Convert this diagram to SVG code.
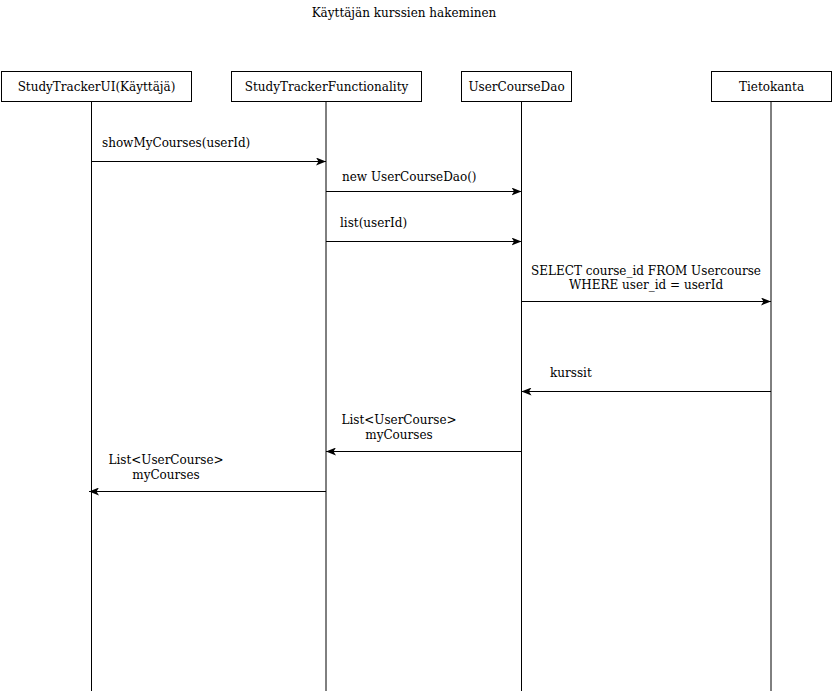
<svg xmlns="http://www.w3.org/2000/svg" width="833" height="694" viewBox="0 0 833 694">
  <style>
    text { font-family: "DejaVu Serif", "Liberation Serif", serif; font-size: 12px; fill: #000; }
    .mid { text-anchor: middle; }
    .box { fill: #fff; stroke: #000; stroke-width: 1; }
    .life { stroke: #000; stroke-width: 1; }
    .life-g { stroke: #000; stroke-width: 1; }
    .msg { stroke: #000; stroke-width: 1; fill: none; marker-end: url(#arrow); }
  </style>
  <defs>
    <marker id="arrow" viewBox="0 0 10 8" refX="10" refY="4" markerWidth="10" markerHeight="8" markerUnits="userSpaceOnUse" orient="auto">
      <path d="M0,0 L10,4 L0,8 L2.5,4 Z" fill="#000"/>
    </marker>
  </defs>

  <rect width="833" height="694" fill="#fff"/>
  <text class="mid" x="404" y="17">Käyttäjän kurssien hakeminen</text>

  <!-- participants with their lifelines -->
  <g id="ui">
    <line class="life" x1="91.5" y1="101.5" x2="91.5" y2="691"/>
    <rect class="box" x="1.5" y="71.5" width="190" height="30"/>
    <text class="mid" x="96.5" y="91">StudyTrackerUI(Käyttäjä)</text>
  </g>
  <g id="functionality">
    <line class="life-g" x1="326" y1="101.5" x2="326" y2="691"/>
    <rect class="box" x="231.5" y="71.5" width="190" height="30"/>
    <text class="mid" x="326.5" y="91">StudyTrackerFunctionality</text>
  </g>
  <g id="dao">
    <line class="life" x1="521.5" y1="101.5" x2="521.5" y2="691"/>
    <rect class="box" x="461.5" y="71.5" width="110" height="30"/>
    <text class="mid" x="516.5" y="91">UserCourseDao</text>
  </g>
  <g id="db">
    <line class="life-g" x1="771" y1="101.5" x2="771" y2="691"/>
    <rect class="box" x="711.5" y="71.5" width="120" height="30"/>
    <text class="mid" x="771.5" y="91">Tietokanta</text>
  </g>

  <!-- messages -->
  <g id="messages">
    <line class="msg" x1="91.5" y1="161.5" x2="326" y2="161.5"/>
    <text x="102" y="147">showMyCourses(userId)</text>

    <line class="msg" x1="326" y1="191.5" x2="521.5" y2="191.5"/>
    <text x="342" y="181">new UserCourseDao()</text>

    <line class="msg" x1="326" y1="241.5" x2="521.5" y2="241.5"/>
    <text x="340" y="227">list(userId)</text>

    <line class="msg" x1="521.5" y1="301.5" x2="771" y2="301.5"/>
    <text class="mid" x="646" y="275">SELECT course_id FROM Usercourse</text>
    <text class="mid" x="646" y="289">WHERE user_id = userId</text>

    <line class="msg" x1="771" y1="391.5" x2="521.5" y2="391.5"/>
    <text x="550" y="377">kurssit</text>

    <line class="msg" x1="521.5" y1="451.5" x2="326" y2="451.5"/>
    <text class="mid" x="399" y="424">List&lt;UserCourse&gt;</text>
    <text class="mid" x="399" y="439">myCourses</text>

    <line class="msg" x1="326" y1="491.5" x2="89" y2="491.5"/>
    <text class="mid" x="166" y="464">List&lt;UserCourse&gt;</text>
    <text class="mid" x="166" y="479">myCourses</text>
  </g>
</svg>
